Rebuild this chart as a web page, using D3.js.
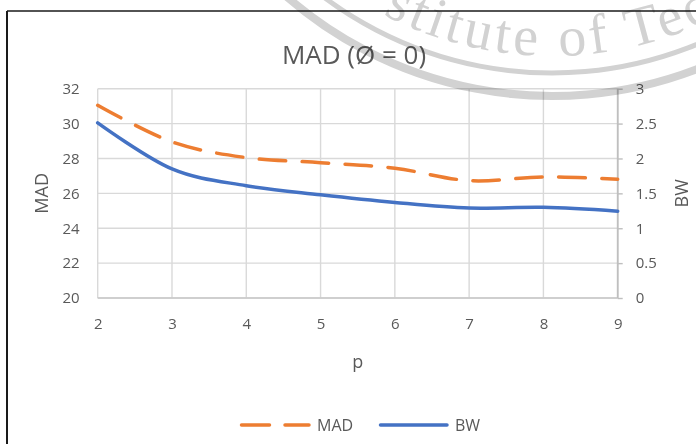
<!DOCTYPE html>
<html>
<head>
<meta charset="utf-8">
<script src="https://cdn.jsdelivr.net/npm/d3@7"></script>
<style>
  html, body { margin: 0; padding: 0; background: #fff; }
  svg { display: block; }
  text { font-family: "Open Sans", "Noto Sans", sans-serif; fill: #595959; }
</style>
</head>
<body>
<svg id="chart" width="696" height="444"></svg>
<script>
// ---- data ----
const pValues = [2, 3, 4, 5, 6, 7, 8, 9];
const madValues = [31.05, 28.95, 28.05, 27.76, 27.44, 26.73, 26.94, 26.81];
const bwValues = [2.51, 1.85, 1.61, 1.48, 1.37, 1.29, 1.30, 1.245];
const leftTicks = [20, 22, 24, 26, 28, 30, 32];
const rightTicks = [0, 0.5, 1, 1.5, 2, 2.5, 3];
const xTicks = [2, 3, 4, 5, 6, 7, 8, 9];
const titleText = "MAD (Ø = 0)";
const seriesNames = ["MAD", "BW"];

const svg = d3.select("#chart");
const W = 696, H = 444;
const plot = { left: 97.7, right: 617.7, top: 88.7, bottom: 298 };

const x = d3.scaleLinear().domain([2, 9]).range([plot.left, plot.right]);
const yL = d3.scaleLinear().domain([20, 32]).range([plot.bottom, plot.top]);
const yR = d3.scaleLinear().domain([0, 3]).range([plot.bottom, plot.top]);

// chart frame (only left + top visible in window)
svg.append("line").attr("x1", 7).attr("x2", 7).attr("y1", 11).attr("y2", H)
  .attr("stroke", "#1a1a1a").attr("stroke-width", 2);
svg.append("line").attr("x1", 7).attr("x2", W).attr("y1", 11).attr("y2", 11)
  .attr("stroke", "#1a1a1a").attr("stroke-width", 1.3);

// gridlines
const grid = svg.append("g");
grid.selectAll("line.h").data(leftTicks).join("line")
  .attr("x1", plot.left).attr("x2", plot.right)
  .attr("y1", d => yL(d)).attr("y2", d => yL(d))
  .attr("stroke", "#d9d9d9").attr("stroke-width", 1.4);
grid.selectAll("line.v").data(xTicks).join("line")
  .attr("x1", d => x(d)).attr("x2", d => x(d))
  .attr("y1", plot.top).attr("y2", plot.bottom)
  .attr("stroke", "#d9d9d9").attr("stroke-width", 1.4);

// bottom axis line
svg.append("line").attr("x1", plot.left).attr("x2", plot.right)
  .attr("y1", plot.bottom).attr("y2", plot.bottom)
  .attr("stroke", "#c8c8c8").attr("stroke-width", 1.6);

// right axis with outward ticks
const rAxis = d3.axisRight(yR).tickValues(rightTicks).tickSize(5).tickPadding(13)
  .tickFormat(d3.format("~g"));
const rg = svg.append("g").attr("transform", `translate(${plot.right},0)`).call(rAxis);
rg.select(".domain").attr("stroke", "#bfbfbf").attr("stroke-width", 1.8)
  .attr("d", `M0,${plot.top}V${plot.bottom}`);
rg.selectAll(".tick line").attr("stroke", "#bfbfbf").attr("stroke-width", 1.4);
rg.selectAll(".tick text").attr("fill", "#595959").style("font-size", "15px")
  .style("font-family", "'Open Sans', sans-serif");

// left axis labels
const lAxis = d3.axisLeft(yL).tickValues(leftTicks).tickSize(0).tickPadding(18)
  .tickFormat(d3.format("d"));
const lg = svg.append("g").attr("transform", `translate(${plot.left},0)`).call(lAxis);
lg.select(".domain").remove();
lg.selectAll(".tick text").attr("fill", "#595959").style("font-size", "15px")
  .style("font-family", "'Open Sans', sans-serif");

// bottom axis labels
const bAxis = d3.axisBottom(x).tickValues(xTicks).tickSize(0).tickPadding(20)
  .tickFormat(d3.format("d"));
const bg = svg.append("g").attr("transform", `translate(0,${plot.bottom})`).call(bAxis);
bg.select(".domain").remove();
bg.selectAll(".tick text").attr("fill", "#595959").style("font-size", "15px")
  .style("font-family", "'Open Sans', sans-serif");

// lines
const curve = d3.curveCatmullRom.alpha(0);
const madLine = d3.line().x((d, i) => x(pValues[i])).y(d => yL(d)).curve(curve);
const bwLine = d3.line().x((d, i) => x(pValues[i])).y(d => yR(d)).curve(curve);

svg.append("path").datum(bwValues).attr("d", bwLine)
  .attr("fill", "none").attr("stroke", "#4472C4").attr("stroke-width", 3.5)
  .attr("stroke-linecap", "round").attr("stroke-linejoin", "round");
svg.append("path").datum(madValues).attr("d", madLine)
  .attr("fill", "none").attr("stroke", "#ED7D31").attr("stroke-width", 3.5)
  .attr("stroke-dasharray", "26.5,16.5")
  .attr("stroke-linecap", "round").attr("stroke-linejoin", "round");

// titles
svg.append("text").attr("x", 354).attr("y", 64).attr("text-anchor", "middle")
  .style("font-size", "26px").text(titleText);
svg.append("text").attr("transform", `translate(48,${(plot.top + plot.bottom) / 2}) rotate(-90)`)
  .attr("text-anchor", "middle").style("font-size", "18px").text("MAD");
svg.append("text").attr("transform", `translate(688,${(plot.top + plot.bottom) / 2}) rotate(-90)`)
  .attr("text-anchor", "middle").style("font-size", "18px").text("BW");
svg.append("text").attr("x", (plot.left + plot.right) / 2).attr("y", 368)
  .attr("text-anchor", "middle").style("font-size", "18px").text("p");

// legend
const leg = svg.append("g");
leg.append("line").attr("x1", 241.5).attr("x2", 309).attr("y1", 425).attr("y2", 425)
  .attr("stroke", "#ED7D31").attr("stroke-width", 3.5).attr("stroke-linecap", "round")
  .attr("stroke-dasharray", "28,15.5");
leg.append("text").attr("x", 317).attr("y", 431).style("font-size", "16px").text(seriesNames[0]);
leg.append("line").attr("x1", 380.5).attr("x2", 447).attr("y1", 425).attr("y2", 425)
  .attr("stroke", "#4472C4").attr("stroke-width", 3.5).attr("stroke-linecap", "round");
leg.append("text").attr("x", 455).attr("y", 431).style("font-size", "16px").text(seriesNames[1]);

// watermark (multiply blended)
const wm = svg.append("g").style("mix-blend-mode", "multiply");
const cx = 552, cy = -308;
const arcPath = (r, a0, a1) => {
  const p0 = [cx + r * Math.cos(a0), cy + r * Math.sin(a0)];
  const p1 = [cx + r * Math.cos(a1), cy + r * Math.sin(a1)];
  return `M${p0[0]},${p0[1]}A${r},${r} 0 0 0 ${p1[0]},${p1[1]}`;
};
const deg = Math.PI / 180;
wm.append("path").attr("d", arcPath(404, 150 * deg, 20 * deg))
  .attr("fill", "none").attr("stroke", "#d2d2d2").attr("stroke-width", 8);
wm.append("path").attr("d", arcPath(381, 150 * deg, 20 * deg))
  .attr("fill", "none").attr("stroke", "#d2d2d2").attr("stroke-width", 5);
const a0 = Math.acos((383 - cx) / 364);
svg.append("defs").append("path").attr("id", "wmText").attr("d", arcPath(364, a0, 5 * deg));
wm.append("text").style("font-family", "'Liberation Serif', serif").style("font-size", "56px")
  .style("letter-spacing", "4px").attr("fill", "#d2d2d2").style("fill", "#d2d2d2")
  .append("textPath").attr("href", "#wmText").text("stitute of Technology");
</script>
</body>
</html>
